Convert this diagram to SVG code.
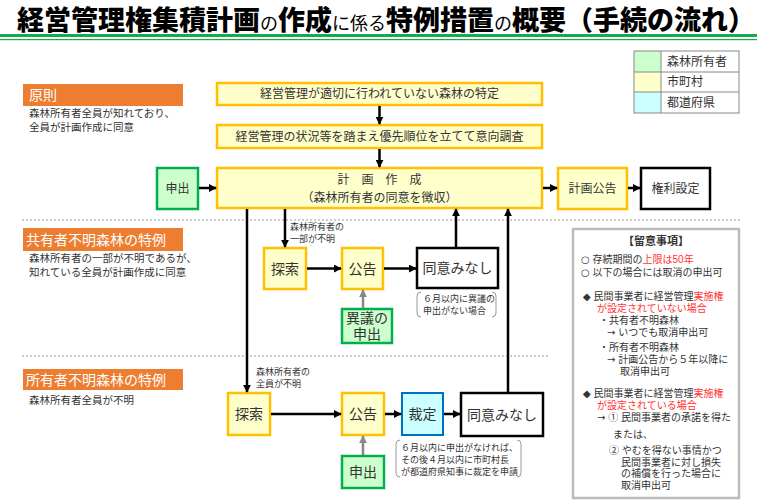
<svg xmlns="http://www.w3.org/2000/svg" width="767" height="500" viewBox="0 0 767 500">
<style>
text{font-family:"Liberation Sans","Noto Sans CJK JP",sans-serif;fill:#333}
.ttl{font-family:"Noto Sans CJK JP",sans-serif;font-weight:900;fill:#000}
.y{fill:#ffffcc;stroke:#ffc000;stroke-width:2.5}
.g{fill:#ccffcc;stroke:#00b050;stroke-width:2.5}
.c{fill:#ccffff;stroke:#0070c0;stroke-width:2}
.k{fill:#fff;stroke:#000;stroke-width:2.5}
.lab{font-size:12px;text-anchor:middle;dominant-baseline:central}
.big{font-size:14px;text-anchor:middle;dominant-baseline:central}
.or{fill:#ed7d31}
.ot{fill:#fff;font-size:14px;dominant-baseline:central}
.d{font-size:10.5px}
.s{font-size:9px}
.n{font-size:10px;dominant-baseline:central}
.sym{font-family:"DejaVu Sans",sans-serif}
.r{fill:#ff3333}
.ln{stroke:#000;stroke-width:2.5;fill:none}
.gl{stroke:#888;stroke-width:2.5;fill:none}
.br{stroke:#999;stroke-width:1;fill:none}
.dot{stroke:#999;stroke-width:1;stroke-dasharray:2 2}
</style>
<defs>
<marker id="a" viewBox="0 0 10 10" refX="9" refY="5" markerWidth="3.2" markerHeight="3.2" orient="auto" markerUnits="strokeWidth"><path d="M0,0 L10,5 L0,10 z" fill="#000"/></marker>
<marker id="ag" viewBox="0 0 10 10" refX="9" refY="5" markerWidth="3.2" markerHeight="3.2" orient="auto" markerUnits="strokeWidth"><path d="M0,0 L10,5 L0,10 z" fill="#888"/></marker>
</defs>
<rect width="767" height="500" fill="#fff"/>
<!-- title -->
<text class="ttl" x="17" y="30" style="font-size:27px"><tspan>経営管理権集積計画</tspan><tspan style="font-size:18px;font-weight:400">の</tspan><tspan>作成</tspan><tspan style="font-size:18px;font-weight:400">に係る</tspan><tspan>特例措置</tspan><tspan style="font-size:18px;font-weight:400">の</tspan><tspan>概要（手続の流れ）</tspan></text>
<rect x="0" y="34" width="757" height="3" fill="#1aa84a"/>
<rect x="0" y="39" width="757" height="1.2" fill="#1aa84a"/>
<!-- legend -->
<g id="legend">
<rect x="634" y="51" width="27" height="21" fill="#ccffcc"/>
<rect x="634" y="72" width="27" height="20" fill="#ffffcc"/>
<rect x="634" y="92" width="27" height="21" fill="#ccffff"/>
<rect x="634" y="51" width="105" height="62" fill="none" stroke="#888" stroke-width="1"/>
<line x1="661" y1="51" x2="661" y2="113" stroke="#888"/>
<line x1="634" y1="72" x2="739" y2="72" stroke="#888"/>
<line x1="634" y1="92" x2="739" y2="92" stroke="#888"/>
<text x="667" y="61.5" font-size="12" dominant-baseline="central">森林所有者</text>
<text x="667" y="82" font-size="12" dominant-baseline="central">市町村</text>
<text x="667" y="102.5" font-size="12" dominant-baseline="central">都道府県</text>
</g>
<!-- dotted separators -->
<line class="dot" x1="22" y1="220" x2="740" y2="220"/>
<line class="dot" x1="22" y1="356" x2="550" y2="356"/>
<!-- section labels -->
<g id="sec1">
<rect class="or" x="23" y="84" width="160" height="22"/>
<text class="ot" x="29" y="95">原則</text>
<text class="d"><tspan x="29" y="117">森林所有者全員が知れており、</tspan><tspan x="29" y="131">全員が計画作成に同意</tspan></text>
</g>
<g id="sec2">
<rect class="or" x="23" y="228" width="160" height="23"/>
<text class="ot" x="26" y="239.5">共有者不明森林の特例</text>
<text class="d"><tspan x="29" y="262">森林所有者の一部が不明であるが、</tspan><tspan x="29" y="276">知れている全員が計画作成に同意</tspan></text>
</g>
<g id="sec3">
<rect class="or" x="23" y="369" width="160" height="21"/>
<text class="ot" x="26" y="379.5">所有者不明森林の特例</text>
<text class="d" x="29" y="404">森林所有者全員が不明</text>
</g>
<!-- nodes -->
<g id="n-tokutei"><rect class="y" x="217" y="83" width="325" height="22"/><text class="lab" x="379.5" y="94">経営管理が適切に行われていない森林の特定</text></g>
<g id="n-chosa"><rect class="y" x="217" y="125" width="325" height="23"/><text class="lab" x="379.5" y="136.5">経営管理の状況等を踏まえ優先順位を立てて意向調査</text></g>
<g id="n-keikaku"><rect class="y" x="217" y="168" width="325" height="40"/><text class="lab" xml:space="preserve"><tspan x="379.5" y="180">計　画　作　成</tspan><tspan x="379.5" y="198">（森林所有者の同意を徴収）</tspan></text></g>
<g id="n-moushide1"><rect class="g" x="157" y="168" width="41" height="41"/><text class="lab" x="177.5" y="188.5">申出</text></g>
<g id="n-koukoku0"><rect class="y" x="558" y="168" width="69" height="41"/><text class="lab" x="592.5" y="188.5">計画公告</text></g>
<g id="n-kenri"><rect class="k" x="641" y="168" width="69" height="41"/><text class="lab" x="675.5" y="188.5">権利設定</text></g>
<g id="n-tansaku2"><rect class="y" x="264" y="248" width="42" height="41"/><text class="big" x="285" y="268.5">探索</text></g>
<g id="n-koukoku2"><rect class="y" x="342" y="248" width="41" height="41"/><text class="big" x="362.5" y="268.5">公告</text></g>
<g id="n-minashi2"><rect class="k" x="417" y="248" width="81" height="40"/><text class="big" x="457.5" y="268">同意みなし</text></g>
<g id="n-igi"><rect class="g" x="342" y="309" width="50" height="34"/><text class="big"><tspan x="367" y="318">異議の</tspan><tspan x="367" y="334">申出</tspan></text></g>
<g id="n-tansaku3"><rect class="y" x="228" y="393" width="42" height="42"/><text class="big" x="249" y="414">探索</text></g>
<g id="n-koukoku3"><rect class="y" x="342" y="393" width="42" height="42"/><text class="big" x="363" y="414">公告</text></g>
<g id="n-saitei"><rect class="c" x="402" y="393" width="41" height="42"/><text class="big" x="422.5" y="414">裁定</text></g>
<g id="n-minashi3"><rect class="k" x="461" y="393" width="82" height="43"/><text class="big" x="502" y="414.5">同意みなし</text></g>
<g id="n-moushide3"><rect class="g" x="342" y="456" width="42" height="32"/><text class="big" x="363" y="472">申出</text></g>
<!-- notes -->
<g id="notes">
<text class="s"><tspan x="290" y="230">森林所有者の</tspan><tspan x="290" y="242">一部が不明</tspan></text>
<text class="s"><tspan x="256" y="375">森林所有者の</tspan><tspan x="256" y="387">全員が不明</tspan></text>
<path class="br" d="M421,292 Q417,292 417,296 V313 Q417,317 421,317"/>
<path class="br" d="M492,292 Q496,292 496,296 V313 Q496,317 492,317"/>
<text class="s"><tspan x="423" y="302">６月以内に異議の</tspan><tspan x="423" y="314">申出がない場合</tspan></text>
<path class="br" d="M400,440 Q396,440 396,444 V473 Q396,477 400,477"/>
<path class="br" d="M517,440 Q521,440 521,444 V473 Q521,477 517,477"/>
<text class="s"><tspan x="401" y="451">６月以内に申出がなければ、</tspan><tspan x="401" y="463">その後４月以内に市町村長</tspan><tspan x="401" y="475">が都道府県知事に裁定を申請</tspan></text>
</g>
<!-- remarks box -->
<g id="remarks">
<rect x="573" y="229" width="166" height="269" fill="#fff" stroke="#bbb" stroke-width="2.5"/>
<text x="656" y="241" font-size="11" font-weight="bold" text-anchor="middle" dominant-baseline="central">【留意事項】</text>
<text class="n"><tspan x="581" y="259" class="sym">○</tspan><tspan> 存続期間の</tspan><tspan class="r">上限は50年</tspan><tspan x="581" y="272" class="sym">○</tspan><tspan> 以下の場合には取消の申出可</tspan></text>
<text class="n"><tspan x="583" y="296" class="sym">◆</tspan><tspan>  民間事業者に経営管理</tspan><tspan class="r">実施権</tspan><tspan class="r" x="597" y="308">が設定されていない場合</tspan><tspan x="599" y="320">・共有者不明森林</tspan><tspan x="607" y="332" class="sym">→</tspan><tspan> いつでも取消申出可</tspan><tspan x="599" y="347">・所有者不明森林</tspan><tspan x="607" y="359" class="sym">→</tspan><tspan> 計画公告から５年以降に</tspan><tspan x="620" y="371">取消申出可</tspan></text>
<text class="n"><tspan x="583" y="393" class="sym">◆</tspan><tspan>  民間事業者に経営管理</tspan><tspan class="r">実施権</tspan><tspan class="r" x="597" y="405">が設定されている場合</tspan><tspan x="597" y="417" class="sym">→</tspan><tspan> ① 民間事業者の承諾を得た</tspan><tspan x="613" y="434">または、</tspan><tspan x="609" y="450">② やむを得ない事情かつ</tspan><tspan x="621" y="461.5">民間事業者に対し損失</tspan><tspan x="621" y="473">の補償を行った場合に</tspan><tspan x="621" y="484.5">取消申出可</tspan></text>
</g>
<!-- connectors -->
<g id="connectors">
<line class="ln" x1="379.5" y1="106" x2="379.5" y2="124" marker-end="url(#a)"/>
<line class="ln" x1="379.5" y1="149" x2="379.5" y2="167" marker-end="url(#a)"/>
<line class="ln" x1="199" y1="188" x2="216" y2="188" marker-end="url(#a)"/>
<line class="ln" x1="543" y1="188" x2="557" y2="188" marker-end="url(#a)"/>
<line class="ln" x1="628" y1="188" x2="640" y2="188" marker-end="url(#a)"/>
<line class="ln" x1="285" y1="209" x2="285" y2="247" marker-end="url(#a)"/>
<line class="ln" x1="307" y1="268.5" x2="341" y2="268.5" marker-end="url(#a)"/>
<line class="ln" x1="384" y1="268.5" x2="416" y2="268.5" marker-end="url(#a)"/>
<line class="ln" x1="456" y1="247" x2="456" y2="209" marker-end="url(#a)"/>
<line class="gl" x1="363" y1="308" x2="363" y2="290" marker-end="url(#ag)"/>
<line class="ln" x1="247" y1="209" x2="247" y2="392" marker-end="url(#a)"/>
<line class="ln" x1="271" y1="414" x2="341" y2="414" marker-end="url(#a)"/>
<line class="ln" x1="385" y1="414" x2="401" y2="414" marker-end="url(#a)"/>
<line class="ln" x1="444" y1="414" x2="460" y2="414" marker-end="url(#a)"/>
<line class="ln" x1="508" y1="392" x2="508" y2="209" marker-end="url(#a)"/>
<line class="gl" x1="363" y1="455" x2="363" y2="436" marker-end="url(#ag)"/>
</g>
</svg>
